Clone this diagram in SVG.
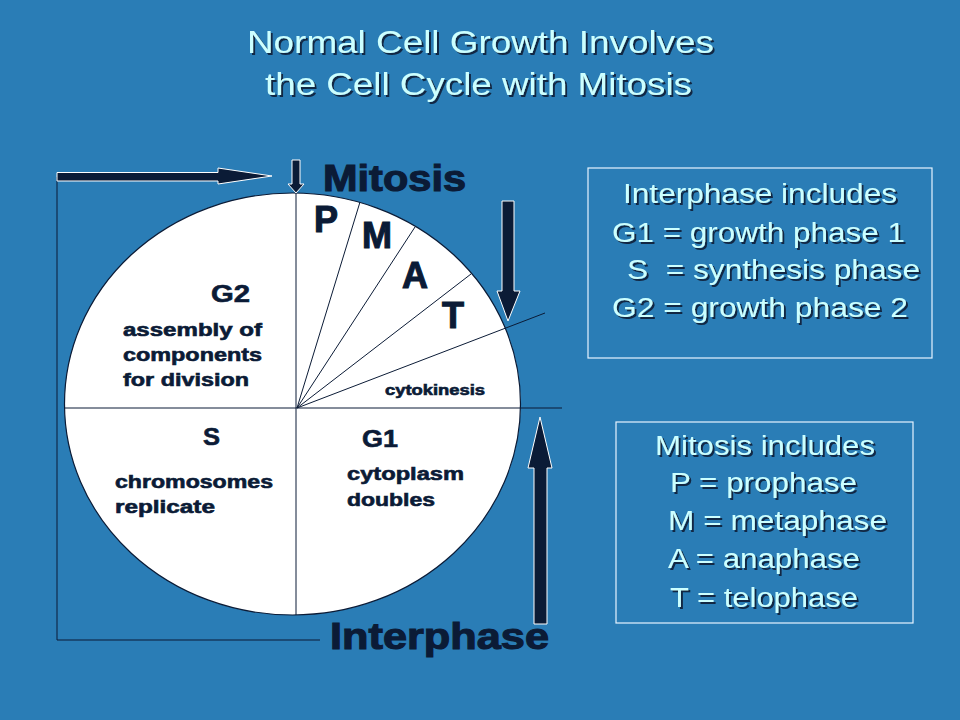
<svg xmlns="http://www.w3.org/2000/svg" width="960" height="720" viewBox="0 0 960 720">
<defs>
<filter id="sh" x="-5%" y="-20%" width="110%" height="140%">
<feDropShadow dx="2" dy="2" stdDeviation="0.6" flood-color="#0a1f38" flood-opacity="0.9"/>
</filter>
<style>
.lt{font-family:"Liberation Sans",Arial,sans-serif;fill:#ccffff;font-size:27px}
.tt{font-family:"Liberation Sans",Arial,sans-serif;fill:#ccffff;font-size:31px}
.bd{font-family:"Liberation Sans",Arial,sans-serif;font-weight:bold;fill:#0b1b36;stroke:#0b1b36;stroke-width:0.6}
.bg{stroke-width:1.1}
.ln{stroke:#0b1b36;stroke-width:1;fill:none}
.ar{fill:#0b1b36;stroke:#ffffff;stroke-width:1}
.bx{fill:none;stroke:#e8f4ff;stroke-width:1.2}
</style>
</defs>
<rect x="0" y="0" width="960" height="720" fill="#2a7db6"/>
<g id="title" filter="url(#sh)">
<text class="tt" x="247" y="53" textLength="467" lengthAdjust="spacingAndGlyphs">Normal Cell Growth Involves</text>
<text class="tt" x="265" y="95" textLength="427" lengthAdjust="spacingAndGlyphs">the Cell Cycle with Mitosis</text>
</g>
<g id="cell-cycle">
<ellipse cx="292.5" cy="404" rx="228" ry="211" fill="#ffffff" stroke="#0b1b36" stroke-width="1.2"/>
</g>
<g id="connectors">
<line class="ln" x1="65" y1="408" x2="562" y2="408"/>
<line class="ln" x1="296" y1="193" x2="296" y2="615"/>
<line class="ln" x1="297" y1="408" x2="360" y2="202"/>
<line class="ln" x1="297" y1="408" x2="415" y2="227"/>
<line class="ln" x1="297" y1="408" x2="471" y2="274"/>
<line class="ln" x1="297" y1="408" x2="545" y2="313"/>
<polyline class="ln" stroke-width="1.5" points="57,177 57,640 320,640"/>
<polygon class="ar" points="57,172.5 218,172.5 218,168 272,176 218,184 218,181 57,181"/>
<polygon class="ar" points="292,160 300,160 300,184 304,184 296,193 288,184 292,184"/>
<polygon class="ar" points="502,201 514,201 514,291 520,291 508,321 497,291 502,291"/>
<polygon class="ar" points="540,417 552,468 547,468 547,624 534,624 534,468 528,468"/>
</g>
<g id="mitosis-label">
<text class="bd bg" x="323" y="191" font-size="36" textLength="143" lengthAdjust="spacingAndGlyphs">Mitosis</text>
</g>
<g id="interphase-label">
<text class="bd bg" x="330" y="649" font-size="36" textLength="219" lengthAdjust="spacingAndGlyphs">Interphase</text>
</g>
<g id="phase-P"><text class="bd bg" x="314" y="232" font-size="36">P</text></g>
<g id="phase-M"><text class="bd bg" x="362" y="248" font-size="36">M</text></g>
<g id="phase-A"><text class="bd bg" x="402" y="288" font-size="36">A</text></g>
<g id="phase-T"><text class="bd bg" x="442" y="328" font-size="36">T</text></g>
<g id="cytokinesis"><text class="bd" x="385" y="395" font-size="14" textLength="100" lengthAdjust="spacingAndGlyphs">cytokinesis</text></g>
<g id="G2">
<text class="bd" x="211" y="302" font-size="23" textLength="39" lengthAdjust="spacingAndGlyphs">G2</text>
<text class="bd" x="123" y="336" font-size="18" textLength="139" lengthAdjust="spacingAndGlyphs">assembly of</text>
<text class="bd" x="123" y="361" font-size="18" textLength="139" lengthAdjust="spacingAndGlyphs">components</text>
<text class="bd" x="123" y="386" font-size="18" textLength="126" lengthAdjust="spacingAndGlyphs">for division</text>
</g>
<g id="S">
<text class="bd" x="203" y="445" font-size="24" textLength="17" lengthAdjust="spacingAndGlyphs">S</text>
<text class="bd" x="115" y="488" font-size="18" textLength="158" lengthAdjust="spacingAndGlyphs">chromosomes</text>
<text class="bd" x="115" y="513" font-size="18" textLength="100" lengthAdjust="spacingAndGlyphs">replicate</text>
</g>
<g id="G1">
<text class="bd" x="362" y="447" font-size="24" textLength="36" lengthAdjust="spacingAndGlyphs">G1</text>
<text class="bd" x="347" y="480" font-size="18" textLength="117" lengthAdjust="spacingAndGlyphs">cytoplasm</text>
<text class="bd" x="347" y="506" font-size="18" textLength="88" lengthAdjust="spacingAndGlyphs">doubles</text>
</g>
<g id="interphase-box">
<rect class="bx" x="588" y="168" width="344" height="190"/>
<g filter="url(#sh)">
<text class="lt" x="623" y="203" textLength="274" lengthAdjust="spacingAndGlyphs">Interphase includes</text>
<text class="lt" x="612" y="242" textLength="293" lengthAdjust="spacingAndGlyphs">G1 = growth phase 1</text>
<text class="lt" x="627" y="279" textLength="293" lengthAdjust="spacingAndGlyphs" xml:space="preserve">S  = synthesis phase</text>
<text class="lt" x="612" y="317" textLength="296" lengthAdjust="spacingAndGlyphs">G2 = growth phase 2</text>
</g>
</g>
<g id="mitosis-box">
<rect class="bx" x="616" y="422" width="297" height="201"/>
<g filter="url(#sh)">
<text class="lt" x="655" y="455" textLength="220" lengthAdjust="spacingAndGlyphs">Mitosis includes</text>
<text class="lt" x="670" y="492" textLength="187" lengthAdjust="spacingAndGlyphs">P = prophase</text>
<text class="lt" x="668" y="530" textLength="219" lengthAdjust="spacingAndGlyphs">M = metaphase</text>
<text class="lt" x="668" y="568" textLength="192" lengthAdjust="spacingAndGlyphs">A = anaphase</text>
<text class="lt" x="670" y="607" textLength="188" lengthAdjust="spacingAndGlyphs">T = telophase</text>
</g>
</g>
</svg>
